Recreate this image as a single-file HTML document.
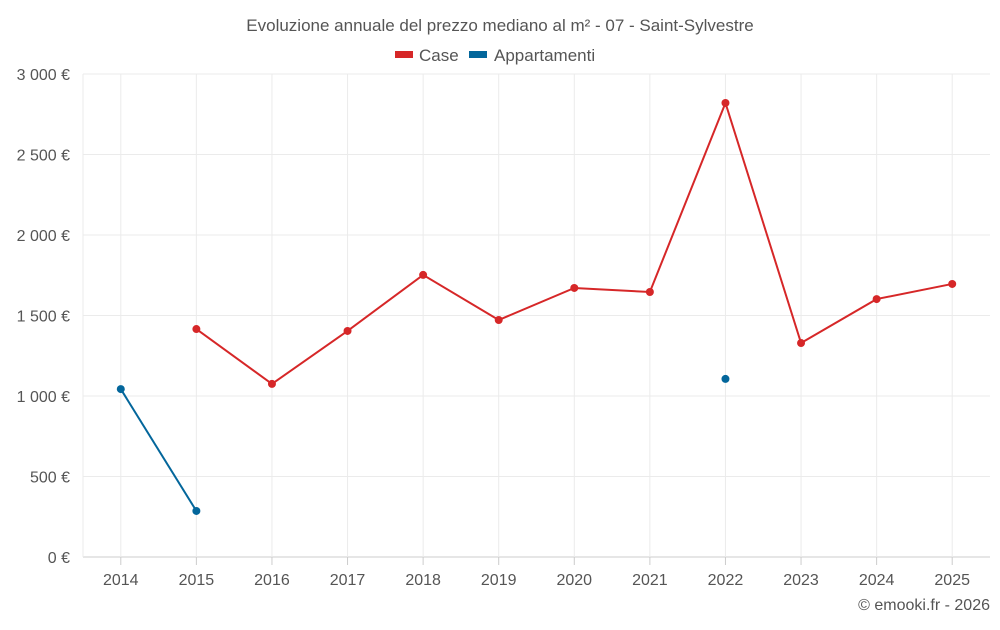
<!DOCTYPE html>
<html><head><meta charset="utf-8"><style>
body{margin:0;background:#fff;font-family:"Liberation Sans",sans-serif;}
svg text{font-family:"Liberation Sans",sans-serif;fill:#555;}
</style></head><body>
<svg id="c" width="1000" height="625">
<text x="500" y="31" text-anchor="middle" font-size="17">Evoluzione annuale del prezzo mediano al m² - 07 - Saint-Sylvestre</text>
<g>
<g><rect x="395" y="51" width="18" height="7" fill="#d62728"/><text x="419" y="61" font-size="17">Case</text></g>
<g><rect x="469" y="51" width="18" height="7" fill="#03669b"/><text x="494" y="61" font-size="17">Appartamenti</text></g>
</g>
<g id="grid"></g><g id="axes"></g><g id="series"></g>
<text x="990" y="610" text-anchor="end" font-size="16">© emooki.fr - 2026</text>
</svg>
<script>
const years=["2014","2015","2016","2017","2018","2019","2020","2021","2022","2023","2024","2025"];
const caseVals=[null,1416,1075,1404,1752,1472,1671,1646,2820,1329,1602,1696];
const appVals=[1043,286,null,null,null,null,null,null,1106,null,null,null];
const yTicks=[0,500,1000,1500,2000,2500,3000];
const yTickLabels=["0 €","500 €","1 000 €","1 500 €","2 000 €","2 500 €","3 000 €"];
const L=83,R=990,T=74,B=557,NS="http://www.w3.org/2000/svg";
const bw=(R-L)/years.length;
const x=i=>L+bw*(i+0.5);
const y=v=>B-(v/3000)*(B-T);
function mk(t,a,p){const e=document.createElementNS(NS,t);for(const k in a)e.setAttribute(k,a[k]);p.appendChild(e);return e;}
const g=document.getElementById('grid'),ax=document.getElementById('axes'),s=document.getElementById('series');
yTicks.forEach((v,i)=>{
 const l=mk('line',{x1:L,x2:R,y1:y(v),y2:y(v),stroke:i==0?'#ccc':'#ebebeb'},g);
 
 
 const t=mk('text',{x:70,y:y(v)+6,'text-anchor':'end','font-size':16},ax);t.textContent=yTickLabels[i];
 
 
});
years.forEach((yr,i)=>{
 const l=mk('line',{x1:x(i),x2:x(i),y1:T,y2:B,stroke:'#ebebeb'},g);
 
 
 const tk=mk('line',{x1:x(i),x2:x(i),y1:B,y2:B+8,stroke:'#ccc'},ax);
 
 
 const t=mk('text',{x:x(i),y:585,'text-anchor':'middle','font-size':16},ax);t.textContent=yr;
 
 
});
mk('line',{x1:L,x2:L,y1:T,y2:B,stroke:'#ebebeb'},g);
function draw(vals,color,name){
 let segs=[],cur=[];
 vals.forEach((v,i)=>{if(v==null){if(cur.length)segs.push(cur);cur=[];}else cur.push([x(i),y(v)]);});
 if(cur.length)segs.push(cur);
 segs.forEach(sg=>{if(sg.length>1){const p=mk('polyline',{points:sg.map(q=>q.join(',')).join(' '),fill:'none',stroke:color,'stroke-width':2},s);
  
  }});
 vals.forEach((v,i)=>{if(v==null)return;const c=mk('circle',{cx:x(i),cy:y(v),r:4,fill:color},s);
  
  });
}
draw(caseVals,'#d62728','case');
draw(appVals,'#03669b','appartamenti');
</script>
</body></html>
